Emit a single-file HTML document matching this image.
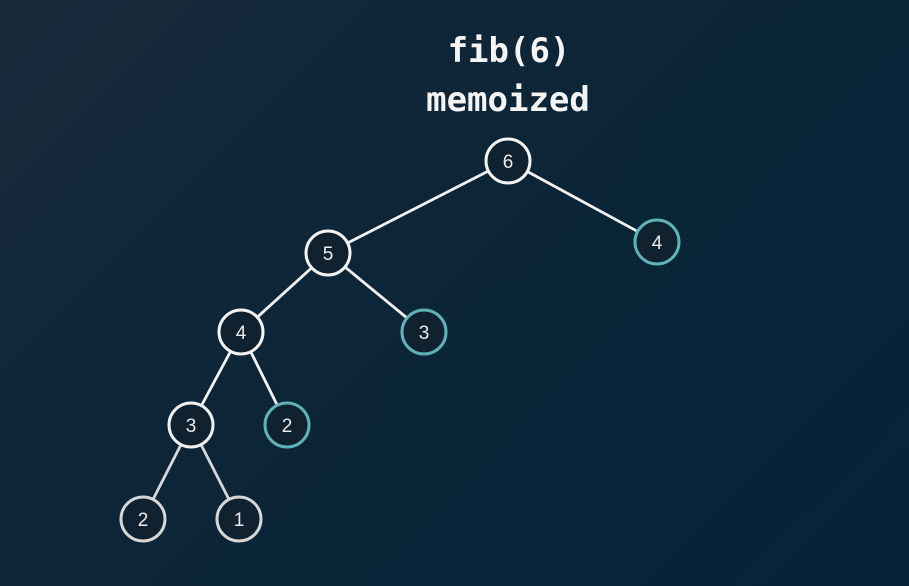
<!DOCTYPE html>
<html><head><style>
html,body{margin:0;padding:0;}
body{width:909px;height:586px;overflow:hidden;background:linear-gradient(135deg,#182a3a 0%,#0c2537 45%,#04233a 100%);}
svg{display:block;}
</style></head><body>
<svg width="909" height="586" xmlns="http://www.w3.org/2000/svg">
<g font-family="DejaVu Sans Mono, Liberation Mono, monospace" font-weight="bold" font-size="34" fill="#f4f4f4" text-anchor="middle">
<text x="509" y="62">fib(6)</text>
<text x="508" y="111">memoized</text>
</g>
<g stroke="#f2f2f2" stroke-width="2.8">
<line x1="508" y1="161" x2="328" y2="253"/>
<line x1="508" y1="161" x2="657" y2="242"/>
<line x1="328" y1="253" x2="241" y2="332"/>
<line x1="328" y1="253" x2="424" y2="332"/>
<line x1="241" y1="332" x2="191" y2="425"/>
<line x1="241" y1="332" x2="287" y2="425"/>
<line x1="191" y1="425" x2="143" y2="519" stroke="#d8d8d8"/>
<line x1="191" y1="425" x2="239" y2="519" stroke="#d8d8d8"/>
</g>
<g stroke-width="3" fill="#10212f">
<circle cx="508" cy="161" r="22" stroke="#f4f4f4"/>
<circle cx="657" cy="242" r="22" stroke="#5fb3b8"/>
<circle cx="328" cy="253" r="22" stroke="#f4f4f4"/>
<circle cx="241" cy="332" r="22" stroke="#f4f4f4"/>
<circle cx="424" cy="332" r="22" stroke="#5fb3b8"/>
<circle cx="191" cy="425" r="22" stroke="#f0f0f0"/>
<circle cx="287" cy="425" r="22" stroke="#5fb3b8"/>
<circle cx="143" cy="519" r="22" stroke="#d6d6d6"/>
<circle cx="239" cy="519" r="22" stroke="#d6d6d6"/>
</g>
<g font-family="Liberation Sans, sans-serif" font-size="19" fill="#ececec" text-anchor="middle">
<text x="508" y="168">6</text>
<text x="657" y="249">4</text>
<text x="328" y="260">5</text>
<text x="241" y="339">4</text>
<text x="424" y="339">3</text>
<text x="191" y="432">3</text>
<text x="287" y="432">2</text>
<text x="143" y="526">2</text>
<text x="239" y="526">1</text>
</g>
</svg>
</body></html>
